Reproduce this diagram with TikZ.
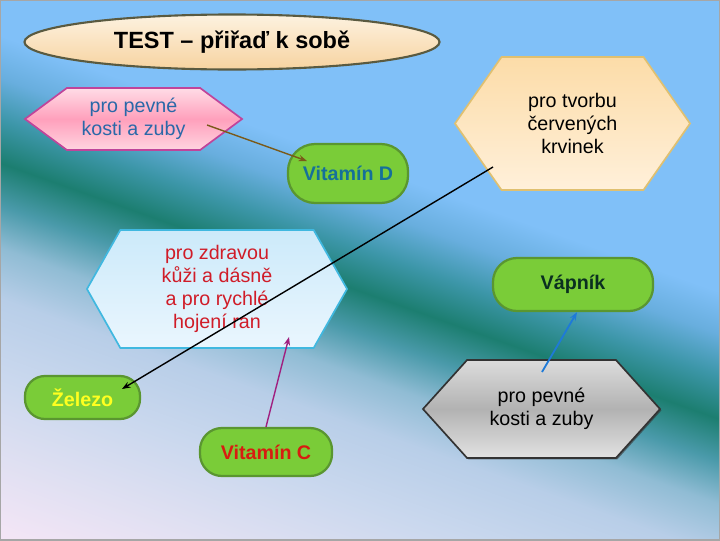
\documentclass[tikz,border=0pt]{standalone}
\usepackage{fontspec}
\setmainfont{Liberation Sans}
\usepackage{xcolor}
\usetikzlibrary{arrows.meta,calc,shapes.geometric,shapes.symbols,shadows}

\definecolor{bgsky}{HTML}{80C0F8}
\definecolor{bgupper}{HTML}{68AEDE}
\definecolor{bgedge}{HTML}{3C96A8}
\definecolor{bgteal}{HTML}{1C7E70}
\definecolor{bglower}{HTML}{4A9AAA}
\definecolor{bgmist}{HTML}{90BCD4}
\definecolor{bgpale}{HTML}{B8CEE8}
\definecolor{bgcloud}{HTML}{CAD8EE}
\definecolor{bglav}{HTML}{E0E0F2}
\definecolor{bgpink}{HTML}{F6E6F6}
\definecolor{titletop}{HTML}{FDF2E0}
\definecolor{titlebot}{HTML}{F7D3A0}
\definecolor{titlerim}{HTML}{5A5A40}
\definecolor{pinktop}{HTML}{FFDCE6}
\definecolor{pinkmid}{HTML}{FFA0BC}
\definecolor{pinkbot}{HTML}{FFD4E0}
\definecolor{pinkrim}{HTML}{C0449A}
\definecolor{pinktext}{HTML}{2A68A8}
\definecolor{peachtop}{HTML}{FCDCA8}
\definecolor{peachbot}{HTML}{FFF0DA}
\definecolor{peachrim}{HTML}{E0C070}
\definecolor{icetop}{HTML}{CCEAFA}
\definecolor{icebot}{HTML}{EAF6FE}
\definecolor{icerim}{HTML}{40B8E0}
\definecolor{icetext}{HTML}{D01C28}
\definecolor{greytop}{HTML}{DCDCDC}
\definecolor{greymid}{HTML}{B2B2B2}
\definecolor{greybot}{HTML}{E2E2E2}
\definecolor{pillfill}{HTML}{7ACC38}
\definecolor{pillrim}{HTML}{5A9630}
\definecolor{vitDtext}{HTML}{15709A}
\definecolor{vapniktext}{HTML}{0A3020}
\definecolor{zelezotext}{HTML}{FFFF20}
\definecolor{vitCtext}{HTML}{D81C10}
\definecolor{olivearrow}{HTML}{7A5A1A}
\definecolor{plumarrow}{HTML}{A02080}
\definecolor{bluearrow}{HTML}{1E7AD8}

\pgfdeclareverticalshading{slidebg}{40cm}{color(0cm)=(bgpink); color(11cm)=(bgpink);
  color(13cm)=(bglav); color(15cm)=(bgcloud); color(16.8cm)=(bgpale); color(18cm)=(bgmist);
  color(19cm)=(bglower); color(20cm)=(bgteal); color(21cm)=(bgedge); color(22cm)=(bgupper);
  color(23cm)=(bgsky); color(40cm)=(bgsky)}

\tikzset{
  pill/.style={draw=pillrim, line width=1.6pt, fill=pillfill, rounded corners=0.6cm,
    inner sep=0pt, font=\fontsize{14}{16}\selectfont\bfseries},
  hexbox/.style={shape=signal, signal to=east and west, line width=1.2pt, align=center,
    inner sep=0pt, font=\fontsize{14}{16.5}\selectfont},
  link/.style={-{Stealth[length=6pt,width=4.5pt]}, line width=1pt},
}

\begin{document}
\begin{tikzpicture}[x=0.025cm,y=-0.025cm]
\useasboundingbox (0,0) rectangle (720,540);
\begin{scope}
\clip (0,0) rectangle (720,540);
\node[rotate=-19.6,inner sep=0pt] (backdrop) at (360,291) {\pgfuseshading{slidebg}};
\end{scope}
\draw[gray!70,line width=1pt] (0,0) rectangle (720,540);

% title
\node[ellipse, draw=titlerim, line width=1.5pt, top color=titletop, bottom color=titlebot,
  minimum width=10.375cm, minimum height=1.375cm, inner sep=0pt,
  font=\fontsize{16.7}{20}\selectfont\bfseries] (title) at (232,42) {TEST – přiřaď k sobě};

% hexagons
\node[hexbox, signal pointer angle=73, draw=pinkrim, top color=pinktop, bottom color=pinkbot,
  middle color=pinkmid, text=pinktext, minimum width=5.425cm, minimum height=1.55cm]
  (kostiA) at (133.5,119) {pro pevné\\kosti a zuby};
\node[hexbox, signal pointer angle=110, draw=peachrim, top color=peachtop, bottom color=peachbot,
  minimum width=5.875cm, minimum height=3.325cm]
  (krvinky) at (572.5,123.5) {pro tvorbu\\červených\\krvinek};
\node[hexbox, signal pointer angle=121, draw=icerim, top color=icetop, bottom color=icebot,
  text=icetext, minimum width=6.5cm, minimum height=2.95cm]
  (kuze) at (217,289) {pro zdravou\\kůži a dásně\\a pro rychlé\\hojení ran};
\node[hexbox, signal pointer angle=96, draw=black!80, top color=greytop, bottom color=greybot,
  middle color=greymid, minimum width=5.925cm, minimum height=2.45cm,
  drop shadow={shadow xshift=1pt, shadow yshift=-1pt, fill=black!80, opacity=.6}]
  (kostiB) at (541.5,409) {pro pevné\\kosti a zuby};

% pills
\node[pill, rounded corners=0.68cm, text=vitDtext, minimum width=3cm, minimum height=1.475cm] (vitD) at (348,173.5) {Vitamín D};
\node[pill, text=vapniktext, minimum width=4cm, minimum height=1.325cm] (vapnik) at (573,284.5) {Vápník};
\node[pill, rounded corners=0.5cm, text=zelezotext, minimum width=2.875cm, minimum height=1.075cm] (zelezo) at (82.5,397.5) {Železo};
\node[pill, rounded corners=0.55cm, text=vitCtext, minimum width=3.3cm, minimum height=1.2cm] (vitC) at (266,452) {Vitamín C};

% answers
\draw[link,olivearrow] ($(kostiA.center)+(73.5,6)$) -- ($(vitD.center)+(-41,-12.5)$);
\draw[link,black] ($(krvinky.center)+(-79.5,43.5)$) -- ($(zelezo.center)+(39.5,-8.5)$);
\draw[link,plumarrow] (vitC.north) -- ($(kuze.center)+(72,48)$);
\draw[link,bluearrow,line width=1.3pt] ($(kostiB.center)+(0.5,-37)$) -- ($(vapnik.south)+(4,0)$);
\end{tikzpicture}
\end{document}
